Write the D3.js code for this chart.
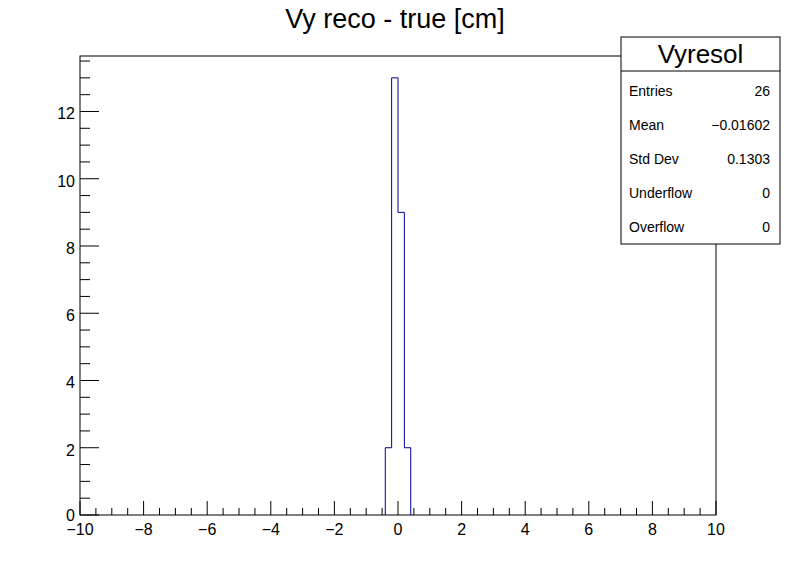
<!DOCTYPE html>
<html>
<head>
<meta charset="utf-8">
<script src="https://cdn.jsdelivr.net/npm/d3@7"></script>
<style>
 body { margin: 0; background: #fff; }
 text { font-family: "Liberation Sans", Arial, sans-serif; }
</style>
</head>
<body>
<div id="chart"></div>
<script>
 // histogram bins (low edge) and counts, all other bins are empty
 const binLow = [-0.4, -0.2, 0.0, 0.2];
 const binCount = [2, 13, 9, 2];
 const binWidth = 0.2;
 const xTicks = [-10, -8, -6, -4, -2, 0, 2, 4, 6, 8, 10];
 const yTicks = [0, 2, 4, 6, 8, 10, 12];
 const statLabels = ["Entries", "Mean", "Std Dev", "Underflow", "Overflow"];
 const statValues = ["26", "\u22120.01602", "0.1303", "0", "0"];

 const W = 796, H = 572;
 const frame = { left: 80, right: 716, top: 56, bottom: 515 };

 const svg = d3.select("#chart").append("svg")
     .attr("width", W)
     .attr("height", H);

 const x = d3.scaleLinear().domain([-10, 10]).range([frame.left, frame.right]);
 const y = d3.scaleLinear().domain([0, d3.max(binCount) * 1.05]).range([frame.bottom, frame.top]);

 // frame
 svg.append("rect")
     .attr("x", frame.left).attr("y", frame.top)
     .attr("width", frame.right - frame.left).attr("height", frame.bottom - frame.top)
     .attr("fill", "none").attr("stroke", "#000").attr("stroke-width", 1);

 // histogram outline as a step line
 const pts = [[binLow[0], 0]];
 binLow.forEach((b, i) => {
     pts.push([b, binCount[i]]);
     pts.push([b + binWidth, binCount[i]]);
 });
 pts.push([binLow[binLow.length - 1] + binWidth, 0]);
 const line = d3.line().x(p => x(p[0])).y(p => y(p[1]));
 svg.append("path")
     .attr("d", line(pts))
     .attr("fill", "none").attr("stroke", "#000099").attr("stroke-width", 1);

 // x axis ticks
 const gx = svg.append("g");
 d3.range(-10, 10.001, 0.5).forEach(v => {
     const major = Math.abs(v % 2) < 1e-6;
     gx.append("line")
         .attr("x1", x(v)).attr("x2", x(v))
         .attr("y1", frame.bottom).attr("y2", frame.bottom - (major ? 14 : 7))
         .attr("stroke", "#000");
 });
 gx.selectAll("text").data(xTicks).enter().append("text")
     .attr("x", d => x(d))
     .attr("y", frame.bottom + 20)
     .attr("text-anchor", "middle")
     .attr("font-size", 16)
     .text(d => d < 0 ? "\u2212" + Math.abs(d) : d);

 // y axis ticks
 const gy = svg.append("g");
 d3.range(0, 13.6, 0.5).forEach(v => {
     const major = Math.abs(v % 2) < 1e-6;
     gy.append("line")
         .attr("x1", frame.left).attr("x2", frame.left + (major ? 19 : 10))
         .attr("y1", y(v)).attr("y2", y(v))
         .attr("stroke", "#000");
 });
 gy.selectAll("text").data(yTicks).enter().append("text")
     .attr("x", frame.left - 5)
     .attr("y", d => y(d) + (d == 0 ? 6 : 8))
     .attr("text-anchor", "end")
     .attr("font-size", 16)
     .text(d => d);

 // title
 svg.append("text")
     .attr("x", 395).attr("y", 28)
     .attr("text-anchor", "middle")
     .attr("font-size", 27)
     .text("Vy reco - true [cm]");

 // stats box
 const sb = { x: 621, y: 37, w: 159, h: 207, head: 34 };
 const gs = svg.append("g");
 gs.append("rect")
     .attr("x", sb.x).attr("y", sb.y).attr("width", sb.w).attr("height", sb.h)
     .attr("fill", "#fff").attr("stroke", "#000");
 gs.append("line")
     .attr("x1", sb.x).attr("x2", sb.x + sb.w)
     .attr("y1", sb.y + sb.head).attr("y2", sb.y + sb.head)
     .attr("stroke", "#000");
 gs.append("text")
     .attr("x", sb.x + sb.w / 2).attr("y", sb.y + 26)
     .attr("text-anchor", "middle")
     .attr("font-size", 26)
     .text("Vyresol");
 statLabels.forEach((s, i) => {
     const ty = sb.y + sb.head + 25 + i * 34;
     gs.append("text")
         .attr("x", sb.x + 8).attr("y", ty)
         .attr("font-size", 14)
         .text(s);
     gs.append("text")
         .attr("x", sb.x + sb.w - 10).attr("y", ty)
         .attr("text-anchor", "end")
         .attr("font-size", 14)
         .text(statValues[i]);
 });
</script>
</body>
</html>
